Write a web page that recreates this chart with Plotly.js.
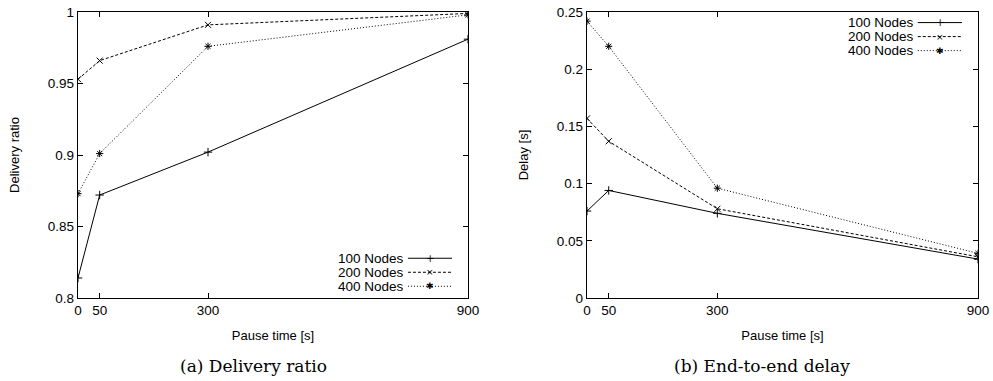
<!DOCTYPE html>
<html>
<head>
<meta charset="utf-8">
<script src="https://cdn.plot.ly/plotly-3.0.1.min.js"></script>
<style>html,body{margin:0;padding:0;background:#fff;}#chart{width:993px;height:381px;}</style>
</head>
<body>
<div id="chart"></div>
<script>
// ---- data ----
const pauseTimes = [0, 50, 300, 900];
const seriesNames = ["100 Nodes", "200 Nodes", "400 Nodes"];
const delivery100 = [0.814, 0.872, 0.902, 0.981];
const delivery200 = [0.953, 0.966, 0.991, 0.999];
const delivery400 = [0.873, 0.901, 0.976, 0.998];
const delay100 = [0.076, 0.094, 0.074, 0.034];
const delay200 = [0.157, 0.137, 0.078, 0.036];
const delay400 = [0.242, 0.220, 0.096, 0.039];
const xTickVals = [0, 50, 300, 900];
const yTicksDelivery = [0.8, 0.85, 0.9, 0.95, 1];
const yTickTextDelivery = ["0.8", "0.85", "0.9", "0.95", "1"];
const yTicksDelay = [0, 0.05, 0.1, 0.15, 0.2, 0.25];
const yTickTextDelay = ["0", "0.05", "0.1", "0.15", "0.2", "0.25"];
const captions = ["(a) Delivery ratio", "(b) End-to-end delay"];

// ---- styles ----
const dashes = ["solid", "3px,2px", "1px,2px"];
const symbols = ["cross-thin-open", "x-thin-open", "asterisk-open"];
const glyphs = ["+", "×", "✱"];
const font = "Liberation Sans, Arial, sans-serif";

function mk(y, i, xa, ya) {
  return {
    x: pauseTimes, y: y, name: seriesNames[i], xaxis: xa, yaxis: ya,
    type: "scatter", mode: "lines+markers", showlegend: false,
    line: {color: "#000", width: 1, dash: dashes[i]},
    marker: {symbol: symbols[i], size: 6, color: "#000", line: {color: "#000", width: 1}}
  };
}
const deliverySets = [delivery100, delivery200, delivery400];
const delaySets = [delay100, delay200, delay400];
const traces = [];
deliverySets.forEach((s, i) => traces.push(mk(s, i, "x", "y")));
delaySets.forEach((s, i) => traces.push(mk(s, i, "x2", "y2")));

function xax(domain, anchor) {
  return {
    domain: domain, anchor: anchor, range: [0, 900],
    tickvals: xTickVals, ticktext: xTickVals.map(String),
    ticks: "inside", ticklen: 5, tickcolor: "#000", tickwidth: 1,
    showline: true, linecolor: "#000", linewidth: 1.2, mirror: "ticks",
    showgrid: false, zeroline: false,
    tickfont: {family: font, size: 13.5, color: "#000"},
    title: {text: "Pause time [s]", font: {family: font, size: 13, color: "#000"}, standoff: 13}
  };
}
function yax(domain, anchor, range, vals, text, title) {
  return {
    domain: domain, anchor: anchor, range: range,
    tickvals: vals, ticktext: text,
    ticks: "inside", ticklen: 5, tickcolor: "#000", tickwidth: 1,
    showline: true, linecolor: "#000", linewidth: 1.2, mirror: "ticks",
    showgrid: false, zeroline: false,
    tickfont: {family: font, size: 13.5, color: "#000"},
    title: {text: title, font: {family: font, size: 13, color: "#000"}, standoff: 25}
  };
}

const yDom = [83 / 381, 369 / 381];
const layout = {
  width: 993, height: 381,
  margin: {l: 0, r: 0, t: 0, b: 0},
  paper_bgcolor: "#fff", plot_bgcolor: "#fff",
  showlegend: false,
  xaxis: xax([78 / 993, 468 / 993], "y"),
  yaxis: yax(yDom, "x", [0.8, 1], yTicksDelivery, yTickTextDelivery, "Delivery ratio"),
  xaxis2: xax([587 / 993, 978 / 993], "y2"),
  yaxis2: yax(yDom, "x2", [0, 0.25], yTicksDelay, yTickTextDelay, "Delay [s]"),
  annotations: [], shapes: []
};

// custom gnuplot-style legends (text, then line sample with marker)
const legendRows = [[0.139, 0.090, 0.041], [0.963, 0.914, 0.865]];
["x", "x2"].forEach((xa, p) => {
  const ya = p === 0 ? "y" : "y2";
  seriesNames.forEach((n, i) => {
    const yy = legendRows[p][i];
    layout.annotations.push({
      xref: xa + " domain", yref: ya + " domain", x: 0.838, y: yy,
      xanchor: "right", yanchor: "middle", text: n, showarrow: false,
      borderpad: 0,
      font: {family: font, size: 13.5, color: "#000"}
    });
    layout.shapes.push({
      type: "line", xref: xa + " domain", yref: ya + " domain",
      x0: 0.846, x1: 0.959, y0: yy, y1: yy,
      line: {color: "#000", width: 1, dash: dashes[i]}
    });
    layout.annotations.push({
      xref: xa + " domain", yref: ya + " domain", x: 0.9025, y: yy,
      xanchor: "center", yanchor: "middle", text: glyphs[i], showarrow: false,
      borderpad: 0,
      font: {family: "DejaVu Sans", size: i === 0 ? 10 : 9, color: "#000"}
    });
  });
});

// captions
const capFont = {family: "DejaVu Serif, serif", size: 17, color: "#000"};
layout.annotations.push({xref: "paper", yref: "paper", x: 253 / 993, y: 15 / 381, xanchor: "center", yanchor: "middle",
  text: captions[0], showarrow: false, font: capFont});
layout.annotations.push({xref: "paper", yref: "paper", x: 762 / 993, y: 15 / 381, xanchor: "center", yanchor: "middle",
  text: captions[1], showarrow: false, font: capFont});

Plotly.newPlot("chart", traces, layout, {staticPlot: true, displayModeBar: false});
</script>
</body>
</html>
